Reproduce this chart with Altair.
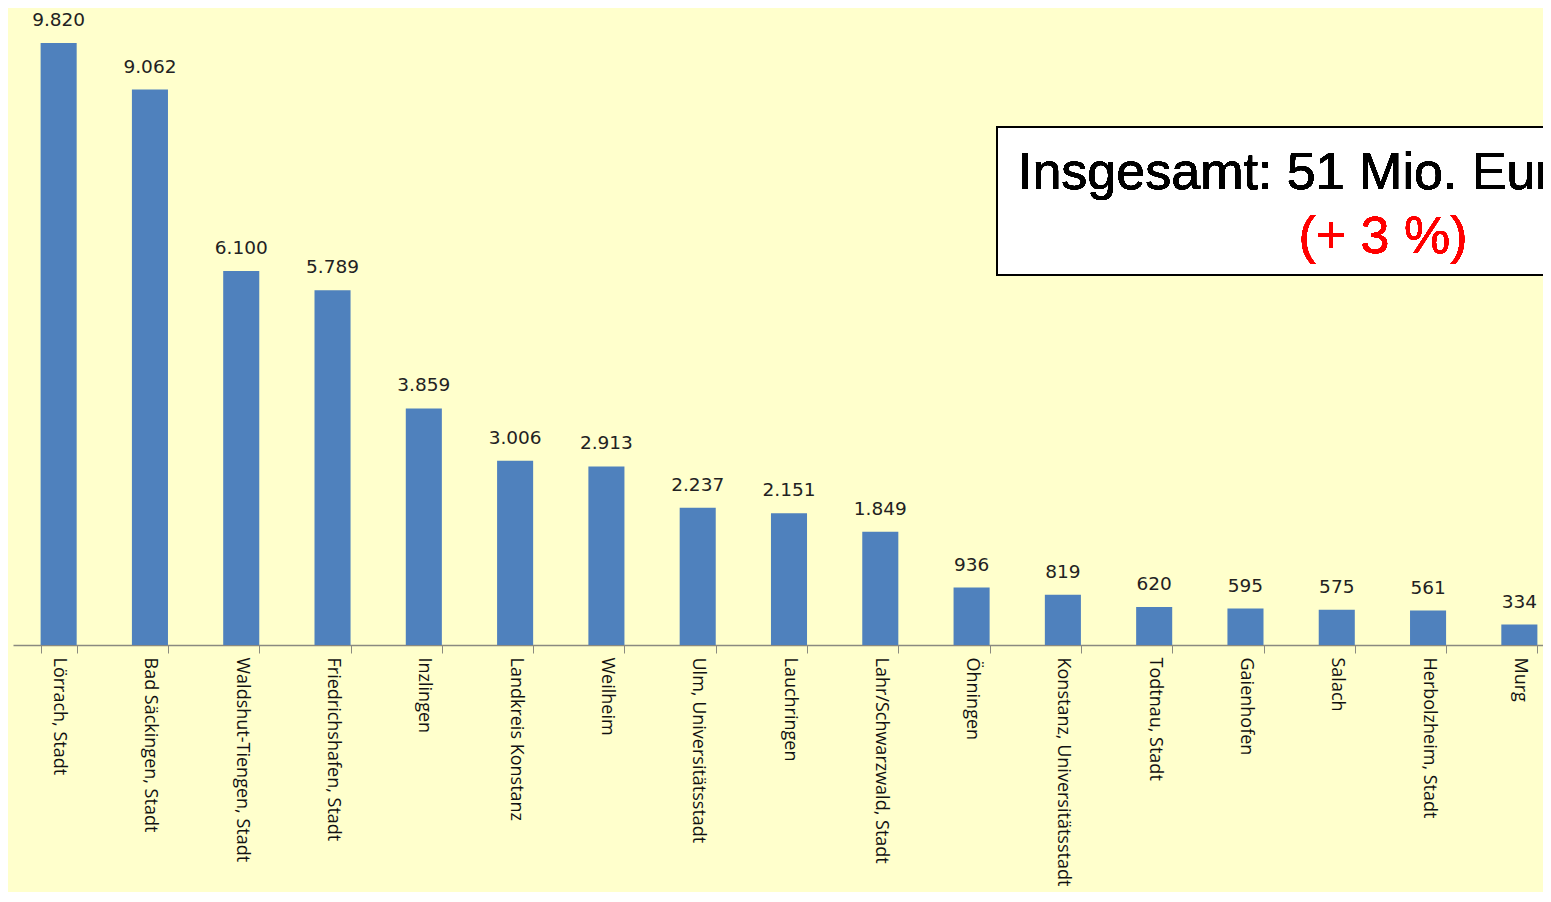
import altair as alt
import pandas as pd

orte = ["Lörrach, Stadt", "Bad Säckingen, Stadt", "Waldshut-Tiengen, Stadt",
        "Friedrichshafen, Stadt", "Inzlingen", "Landkreis Konstanz", "Weilheim",
        "Ulm, Universitätsstadt", "Lauchringen", "Lahr/Schwarzwald, Stadt",
        "Öhningen", "Konstanz, Universitätsstadt", "Todtnau, Stadt",
        "Gaienhofen", "Salach", "Herbolzheim, Stadt", "Murg"]
werte = [9820, 9062, 6100, 5789, 3859, 3006, 2913, 2237, 2151, 1849,
         936, 819, 620, 595, 575, 561, 334]
labels = ["9.820", "9.062", "6.100", "5.789", "3.859", "3.006", "2.913", "2.237",
          "2.151", "1.849", "936", "819", "620", "595", "575", "561", "334"]

df = pd.DataFrame({"ort": orte, "wert": werte, "label": labels})

x = alt.X("ort:N", sort=orte, title=None,
          scale=alt.Scale(range=[0, 1552], paddingInner=0.605, paddingOuter=0.3025),
          axis=alt.Axis(labelAngle=90, labelAlign="left", labelBaseline="middle",
                        labelFont="Open Sans", labelFontSize=18, labelColor="#111111",
                        labelPadding=4, tickBand="extent", tickSize=8,
                        tickColor="#8a8a80", domainColor="#8a8a80", domainWidth=1.5,
                        labelLimit=400, labelOverlap=False))
y = alt.Y("wert:Q", title=None, scale=alt.Scale(domain=[0, 10310], nice=False),
          axis=None)

bars = alt.Chart(df).mark_bar(color="#4F81BD").encode(x=x, y=y)
texts = alt.Chart(df).mark_text(baseline="alphabetic", dy=-17, font="DejaVu Sans",
                                fontSize=18.5, color="#222222").encode(
    x=alt.X("ort:N", sort=orte), y="wert:Q", text="label:N")

box = alt.Chart(df).mark_rect(fill="white", stroke="black", strokeWidth=2).encode(
    x=alt.value(984), x2=alt.value(1620), y=alt.value(114), y2=alt.value(262))
t1 = alt.Chart(df).mark_text(align="left", baseline="alphabetic", font="Liberation Sans",
                             fontSize=52, color="black").encode(
    x=alt.value(1005), y=alt.value(176), text=alt.value("Insgesamt: 51 Mio. Euro"))
t2 = alt.Chart(df).mark_text(align="center", baseline="alphabetic", font="Liberation Sans",
                             fontSize=52, color="#ff0000").encode(
    x=alt.value(1370), y=alt.value(240), text=alt.value("(+ 3 %)"))

chart = alt.layer(bars, texts, box, t1, t2).properties(
    width=1530, height=632, background="#FFFFCC",
    autosize=alt.AutoSizeParams(type="none"),
    padding={"left": 5, "top": 5, "right": 0, "bottom": 247}
).configure_view(stroke=None)

chart.save("out.html", embed_options={"renderer": "svg", "actions": False})
